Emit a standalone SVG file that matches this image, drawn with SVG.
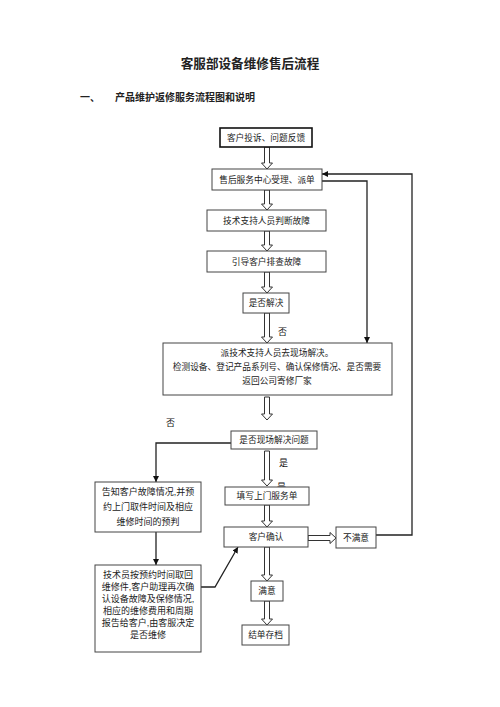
<svg xmlns="http://www.w3.org/2000/svg" width="500" height="707" viewBox="0 0 500 707">
<defs>
<marker id="ah" viewBox="0 0 10 10" refX="10" refY="5" markerWidth="6" markerHeight="6" markerUnits="userSpaceOnUse" orient="auto">
<path d="M0,0 L10,5 L0,10 Z" fill="#111"/>
</marker>
<style>
.box{fill:#fff;stroke:#444;stroke-width:1}
.bold{fill:#fff;stroke:#111;stroke-width:1.6}
.t{font-family:"Liberation Sans","Noto Sans CJK SC",sans-serif;font-size:8.7px;fill:#222;text-anchor:middle}
.t9{font-family:"Liberation Sans","Noto Sans CJK SC",sans-serif;font-size:9px;fill:#222;text-anchor:middle}
.lbl{font-family:"Liberation Serif","Noto Sans CJK SC",serif;font-size:9px;fill:#111}
.ha{fill:#fff;stroke:#333;stroke-width:1}
.ln{fill:none;stroke:#222;stroke-width:1.3}
</style>
</defs>
<rect width="500" height="707" fill="#fff"/>
<text x="250" y="67.5" font-family="Liberation Serif,'Noto Sans CJK SC',serif" font-size="12.6" font-weight="bold" fill="#222" text-anchor="middle">客服部设备维修售后流程</text>
<text x="80" y="101" font-family="Liberation Serif,'Noto Sans CJK SC',serif" font-size="10" font-weight="bold" fill="#222">一、</text>
<text x="115" y="101" font-family="Liberation Serif,'Noto Sans CJK SC',serif" font-size="10" font-weight="bold" fill="#222">产品维护返修服务流程图和说明</text>

<g id="connectors">
<path class="ha" d="M264.5,147 V163 H261.5 L267,169 L272.5,163 H269.5 V147 Z"/>
<path class="ha" d="M264.5,190 V204 H261.5 L267,210 L272.5,204 H269.5 V190 Z"/>
<path class="ha" d="M264.5,231 V245 H261.5 L267,251 L272.5,245 H269.5 V231 Z"/>
<path class="ha" d="M264.5,272 V287 H261.5 L267,293 L272.5,287 H269.5 V272 Z"/>
<path class="ha" d="M264.5,313 V337 H261.5 L267,343 L272.5,337 H269.5 V313 Z"/>
<path class="ha" d="M264.5,397 V414 H261.5 L267,420 L272.5,414 H269.5 V397 Z"/>
<path class="ha" d="M264.5,451 V480 H261.5 L267,486 L272.5,480 H269.5 V451 Z"/>
<path class="ha" d="M264.5,505 V521 H261.5 L267,527 L272.5,521 H269.5 V505 Z"/>
<path class="ha" d="M264.5,547 V575 H261.5 L267,581 L272.5,575 H269.5 V547 Z"/>
<path class="ha" d="M264.5,601 V619 H261.5 L267,625 L272.5,619 H269.5 V601 Z"/>
<path class="ha" d="M308,535.5 H330 V532.5 L336,538 L330,543.5 V540.5 H308 Z"/>
<polyline class="ln" points="376,535 412,535 412,174 322,174" marker-end="url(#ah)"/>
<polyline class="ln" points="322,181 367,181 367,343" marker-end="url(#ah)"/>
<polyline class="ln" points="231,443 156,443 156,482" marker-end="url(#ah)"/>
<line class="ln" x1="156" y1="532" x2="156" y2="565" marker-end="url(#ah)"/>
<polyline class="ln" points="201,587 215,587 238,547" marker-end="url(#ah)"/>
<text class="lbl" x="278" y="335">否</text>
<text class="lbl" x="166" y="426">否</text>
<text class="lbl" x="279" y="466">是</text>
<text class="lbl" x="277" y="490">是</text>
</g>

<g id="n1"><rect class="bold" x="220" y="128" width="92" height="19"/><text class="t" x="266" y="140.5">客户投诉、问题反馈</text></g>
<g id="n2"><rect class="box" x="212" y="169" width="110" height="21"/><text class="t" x="267" y="182.5">售后服务中心受理、派单</text></g>
<g id="n3"><rect class="box" x="207" y="210" width="119" height="21"/><text class="t" x="266.5" y="223.5">技术支持人员判断故障</text></g>
<g id="n4"><rect class="box" x="207" y="251" width="119" height="21"/><text class="t" x="266.5" y="264.5">引导客户排查故障</text></g>
<g id="n5"><rect class="box" x="243" y="293" width="46" height="20"/><text class="t" x="266" y="306">是否解决</text></g>
<g id="n6"><rect class="box" x="163" y="343" width="229" height="52"/>
<text class="t" x="277" y="356">派技术支持人员去现场解决。</text>
<text class="t" x="277" y="370">检测设备、登记产品系列号、确认保修情况、是否需要</text>
<text class="t" x="277" y="383.5">返回公司寄修厂家</text></g>
<g id="n7"><rect class="box" x="231" y="431" width="86" height="18"/><text class="t" x="274" y="443">是否现场解决问题</text></g>
<g id="n8"><rect class="box" x="95" y="482" width="106" height="50"/>
<text class="t9" x="148" y="495">告知客户故障情况,并预</text>
<text class="t9" x="148" y="510">约上门取件时间及相应</text>
<text class="t9" x="148" y="525">维修时间的预判</text></g>
<g id="n9"><rect class="box" x="225" y="487" width="84" height="18"/><text class="t" x="267" y="499">填写上门服务单</text></g>
<g id="n10"><rect class="box" x="224" y="527" width="84" height="20"/><text class="t" x="266" y="540">客户确认</text></g>
<g id="n11"><rect class="box" x="336" y="527" width="40" height="21"/><text class="t" x="356" y="540.5">不满意</text></g>
<g id="n12"><rect class="box" x="95" y="565" width="106" height="87"/>
<text class="t9" x="148" y="578">技术员按预约时间取回</text>
<text class="t9" x="148" y="590">维修件,客户助理再次确</text>
<text class="t9" x="148" y="601.5">认设备故障及保修情况,</text>
<text class="t9" x="148" y="614">相应的维修费用和周期</text>
<text class="t9" x="148" y="626">报告给客户,由客服决定</text>
<text class="t9" x="148" y="637.5">是否维修</text></g>
<g id="n13"><rect class="box" x="251" y="581" width="32" height="20"/><text class="t" x="267" y="594">满意</text></g>
<g id="n14"><rect class="box" x="242" y="625" width="47" height="20"/><text class="t" x="265.5" y="638">结单存档</text></g>
</svg>
